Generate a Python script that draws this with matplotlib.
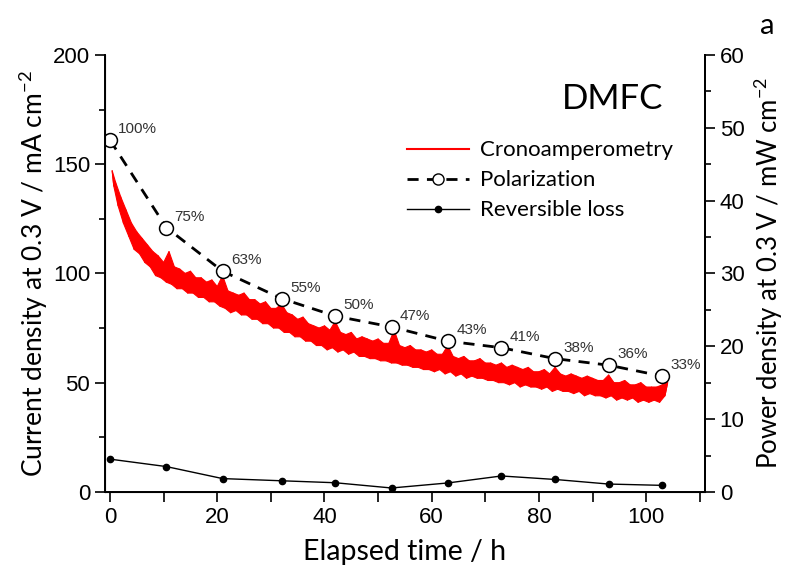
import numpy as np
import matplotlib
matplotlib.use('Agg')
import matplotlib.pyplot as plt
from matplotlib.ticker import MultipleLocator
from matplotlib.lines import Line2D

# polarization points and reversible loss (current density, mA/cm2)
pol_t = [0, 10.5, 21, 32, 42, 52.5, 63, 73, 83, 93, 103]
pol_j = [161, 121, 101, 88.5, 80.5, 75.5, 69, 66, 61, 58, 53]
pol_pct = ['100%', '75%', '63%', '55%', '50%', '47%', '43%', '41%', '38%', '36%', '33%']
rev_j = [15, 11.6, 6.1, 5.1, 4.2, 1.8, 4.1, 7.3, 5.7, 3.6, 3.0]

# chronoamperometry band: upper values at whole hours, lower values at half hours
crono_hi = [147, 142, 135, 129, 123, 119, 116, 113, 110, 108,
            105, 110, 103, 102, 100, 101, 98, 98, 96, 97,
            94, 99, 92, 91, 90, 91, 88, 88, 86, 87,
            84, 84, 86, 82, 81, 79, 80, 77, 76, 75,
            76, 74, 78, 73, 72, 73, 70, 71, 70, 69,
            70, 68, 68, 74, 67, 66, 67, 65, 65, 64,
            65, 63, 63, 67, 62, 61, 62, 60, 60, 61,
            59, 59, 58, 59, 57, 58, 57, 56, 57, 55,
            55, 56, 54, 57, 54, 53, 54, 53, 52, 53,
            52, 51, 51, 53.5, 50, 50, 51, 49, 49, 50,
            48, 48, 48, 49, 50]
crono_lo = [140, 131, 123, 117, 111, 109, 105, 103, 99, 98,
            96, 95, 93, 93, 91, 91, 89, 89, 87, 87,
            85, 84, 82, 83, 81, 81, 79, 79, 77, 77,
            75, 75, 73, 73, 71, 71, 69, 69, 67, 67,
            65, 66, 64, 65, 63, 64, 62, 62, 61, 61,
            60, 60, 59, 59, 58, 58, 57, 57, 56, 56,
            55, 56, 54, 55, 53, 54, 52, 53, 52, 52,
            51, 51, 50, 50, 49, 50, 48, 49, 48, 48,
            47, 48, 46, 47, 46, 46, 45, 46, 44, 45,
            44, 44, 43, 44, 42, 43, 42, 43, 41, 42,
            41, 42, 41, 44]

t_hi = np.arange(len(crono_hi), dtype=float)
t_hi[0] = 0.4
t_lo = np.arange(len(crono_lo)) + 0.5
t_lo[0] = 0.7
crono_t = np.empty(len(t_hi) + len(t_lo))
crono_j = np.empty(len(t_hi) + len(t_lo))
crono_t[0::2], crono_t[1::2] = t_hi, t_lo
crono_j[0::2], crono_j[1::2] = crono_hi, crono_lo

plt.rcParams['font.family'] = ['Liberation Sans', 'DejaVu Sans']
plt.rcParams['mathtext.fontset'] = 'custom'
plt.rcParams['mathtext.rm'] = 'Lato'
lab_font = ['Lato', 'DejaVu Sans']

fig = plt.figure(figsize=(7.87, 5.72), dpi=100)
ax = fig.add_axes([0.133, 0.140, 0.763, 0.764])

# noisy band: outline from the upper and lower readings, then the trace itself
ax.fill(np.r_[t_hi, t_lo[::-1]], np.r_[crono_hi, crono_lo[::-1]],
        color='red', lw=0.8, zorder=2)
ax.plot(crono_t, crono_j, color='red', lw=0.8, zorder=2)
ax.plot(pol_t, pol_j, color='black', lw=2, ls=(0, (4, 3)), zorder=3)
ax.plot(pol_t, pol_j, 'o', ms=10, mfc='white', mec='black', mew=1.1, zorder=4)
ax.plot(pol_t, rev_j, '-o', color='black', lw=1, ms=4.5, zorder=3)

for t, j, p in zip(pol_t, pol_j, pol_pct):
    ax.annotate(p, (t, j), xytext=(6, 5), textcoords='offset points',
                fontsize=11, color='#333333')

ax.set_xlim(-1, 111)
ax.set_ylim(0, 200)
ax.xaxis.set_major_locator(MultipleLocator(20))
ax.xaxis.set_minor_locator(MultipleLocator(10))
ax.yaxis.set_major_locator(MultipleLocator(50))
ax.yaxis.set_minor_locator(MultipleLocator(25))
ax.tick_params(which='both', direction='out', labelsize=16, width=1.2)
ax.tick_params(axis='x', which='both', length=7)
ax.tick_params(axis='y', which='major', length=7)
ax.tick_params(axis='y', which='minor', length=4)
ax.spines['top'].set_visible(False)
for s in ['left', 'bottom', 'right']:
    ax.spines[s].set_linewidth(1.4)

ax.set_xlabel('Elapsed time / h', fontsize=20.5, family=lab_font, labelpad=8)
ax.set_ylabel('Current density at 0.3 V / mA cm$^{-2}$', fontsize=19,
              family=lab_font, labelpad=2)

ax2 = ax.twinx()
ax2.set_ylim(0, 60)
ax2.yaxis.set_major_locator(MultipleLocator(10))
ax2.yaxis.set_minor_locator(MultipleLocator(5))
ax2.tick_params(which='both', direction='out', labelsize=16, width=1.2)
ax2.tick_params(which='major', length=7)
ax2.tick_params(which='minor', length=4)
ax2.spines['top'].set_visible(False)
ax2.spines['right'].set_linewidth(1.4)
ax2.set_ylabel('Power density at 0.3 V / mW cm$^{-2}$', fontsize=18.5,
               family=lab_font, labelpad=5)

handles = [
    Line2D([], [], color='red', lw=1.5),
    Line2D([], [], color='black', lw=2, ls=(0, (4, 3)), marker='o', ms=8,
           mfc='white', mec='black'),
    Line2D([], [], color='black', lw=1, marker='o', ms=4.5),
]
ax.legend(handles, ['Cronoamperometry', 'Polarization', 'Reversible loss'],
          loc='upper left', bbox_to_anchor=(0.47, 0.85), frameon=False,
          prop={'family': lab_font, 'size': 16}, handlelength=2.8,
          labelspacing=0.45, handletextpad=0.5)

ax.text(0.93, 0.90, 'DMFC', transform=ax.transAxes, ha='right', va='center',
        fontsize=25, family=lab_font)
fig.text(0.975, 0.955, 'a', ha='center', va='center', fontsize=21, family=lab_font)

fig.savefig('out.png', dpi=100)
